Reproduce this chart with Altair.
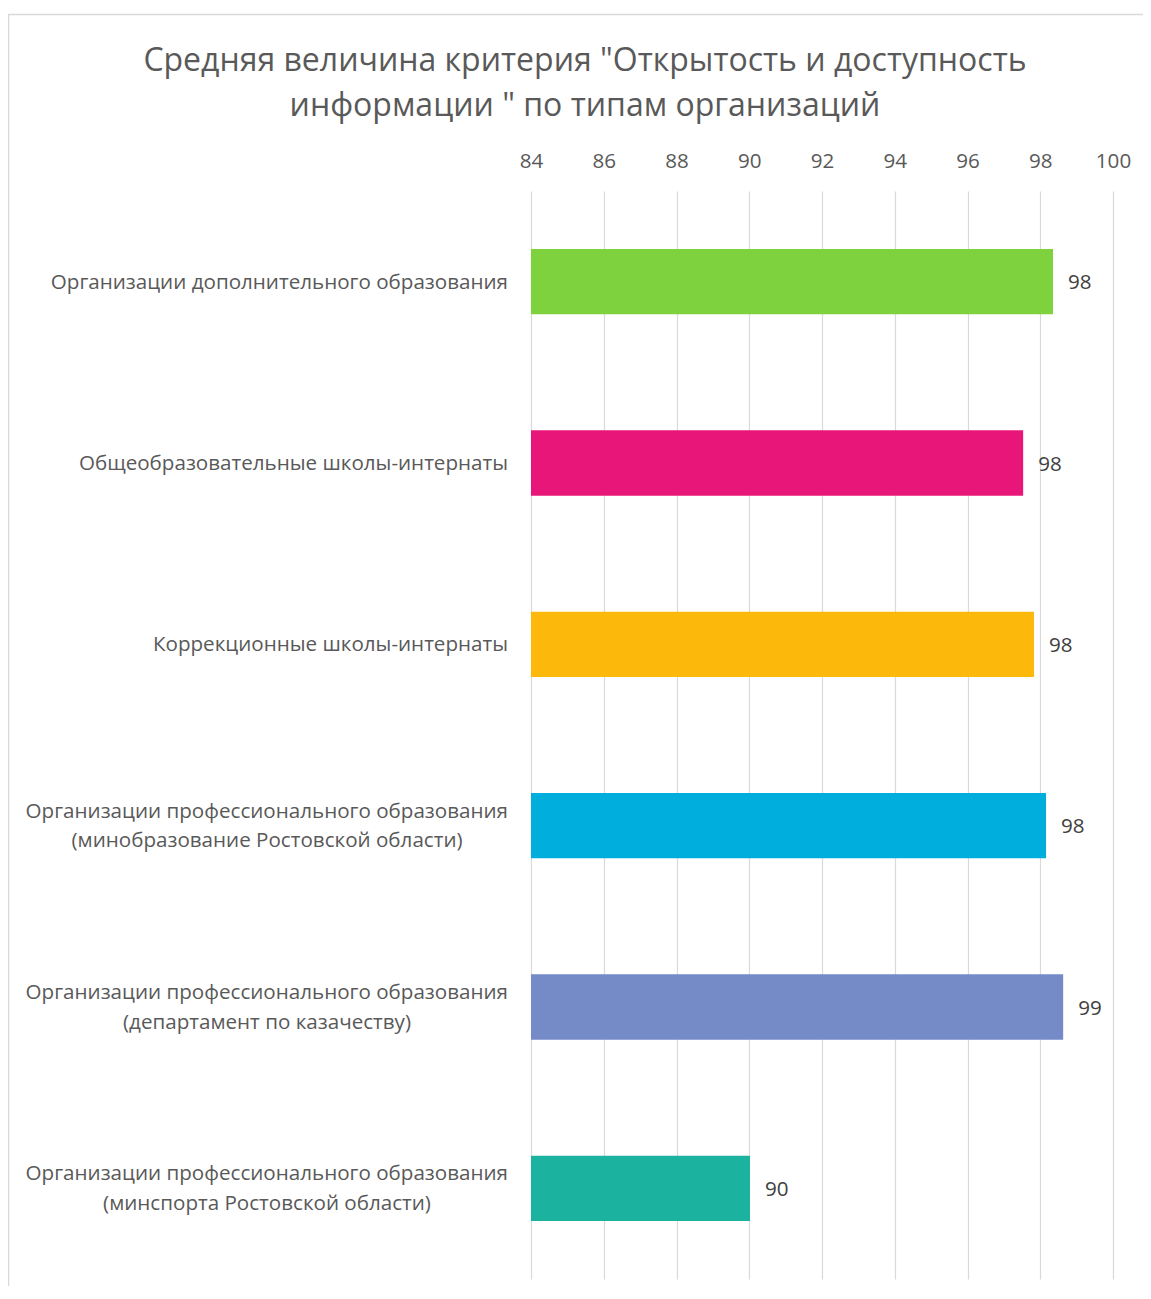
import altair as alt
import pandas as pd

line1 = [
    "Организации дополнительного образования",
    "Общеобразовательные школы-интернаты",
    "Коррекционные школы-интернаты",
    "Организации профессионального образования",
    "Организации профессионального образования",
    "Организации профессионального образования",
]
line2 = [
    "",
    "",
    "",
    "(минобразование Ростовской области)",
    "(департамент по казачеству)",
    "(минспорта Ростовской области)",
]
values = [98.35, 97.53, 97.83, 98.16, 98.63, 90.02]
palette = ["#7ED23E", "#E91679", "#FDB80C", "#00AEDD", "#748BC8", "#1BB39F"]
ticks = [84, 86, 88, 90, 92, 94, 96, 98, 100]

cats = [f"{a} {b}".strip() for a, b in zip(line1, line2)]
df = pd.DataFrame({"category": cats, "line1": line1, "line2": line2, "value": values})

FONT = "Open Sans"
FS = 20.6
LABEL_COLOR = "#595959"

yenc = alt.Y("category:N",
             scale=alt.Scale(domain=cats, paddingInner=0.64, paddingOuter=0.32),
             axis=None)
xenc = alt.X("value:Q",
             scale=alt.Scale(domain=[ticks[0], ticks[-1]], nice=False, zero=False),
             axis=alt.Axis(orient="top", values=ticks, grid=True, gridColor="#d9d9d9",
                           gridWidth=1.2, domain=False, ticks=False, labelFont=FONT,
                           labelFontSize=FS, labelColor=LABEL_COLOR, labelPadding=24,
                           labelBaseline="alphabetic", labelFlush=False, title=None))

base = alt.Chart(df)

frame = alt.Chart(pd.DataFrame({"f": [0]})).mark_rect(
    fillOpacity=0, stroke="#d9d9d9", strokeWidth=1.5
).encode(x=alt.value(-522.5), x2=alt.value(1000), y=alt.value(-176.5), y2=alt.value(1500))

bars = base.mark_bar().encode(
    x=xenc,
    x2=alt.X2(datum=ticks[0]),
    y=yenc,
    color=alt.Color("category:N", scale=alt.Scale(domain=cats, range=palette), legend=None),
)

vlabels = base.mark_text(align="left", baseline="middle", dx=15, dy=1.5, fontSize=FS,
                         color="#404040", font=FONT).encode(
    x="value:Q", y=yenc, text=alt.Text("value:Q", format=".0f"))

single = base.transform_filter("datum.line2 == ''").mark_text(
    align="right", baseline="middle", fontSize=FS, color=LABEL_COLOR, font=FONT, dy=1
).encode(x=alt.value(-23), y=yenc, text="line1:N")

multi1 = base.transform_filter("datum.line2 != ''").mark_text(
    align="right", baseline="middle", fontSize=FS, color=LABEL_COLOR, font=FONT, dy=-14
).encode(x=alt.value(-23), y=yenc, text="line1:N")

multi2 = base.transform_filter("datum.line2 != ''").mark_text(
    align="center", baseline="middle", fontSize=FS, color=LABEL_COLOR, font=FONT, dy=15.5
).encode(x=alt.value(-264), y=yenc, text="line2:N")

chart = alt.layer(frame, bars, vlabels, single, multi1, multi2).properties(
    width=582,
    height=1088,
    title=alt.TitleParams(
        ["Средняя величина критерия \"Открытость и доступность",
         "информации \" по типам организаций"],
        fontSize=32, font=FONT, fontWeight="normal", color=LABEL_COLOR,
        anchor="middle", dx=-237, dy=137, offset=28, lineHeight=45),
    autosize=alt.AutoSizeParams(type="none"),
    padding={"left": 523, "top": 183, "right": 30, "bottom": 7},
).configure_view(stroke=None)

chart.save("out.html", embed_options={"renderer": "svg", "actions": False})
